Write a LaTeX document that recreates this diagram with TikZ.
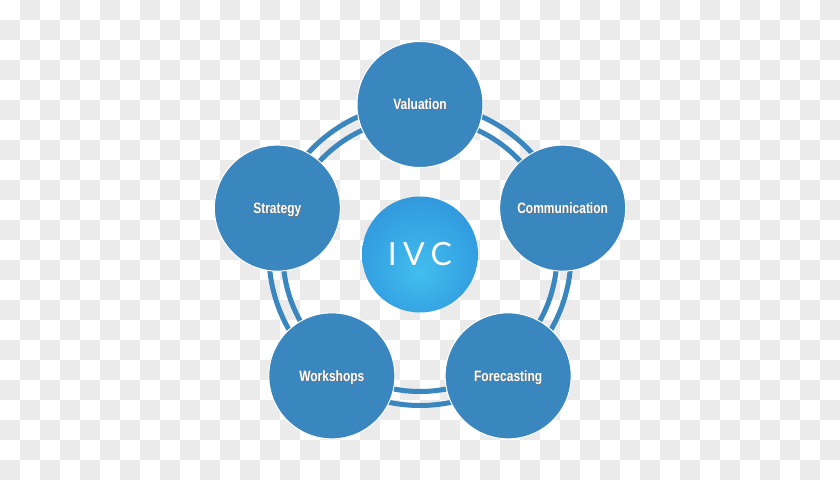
\documentclass[tikz,border=0pt]{standalone}
\usepackage{fontspec}
\usepackage{tikz}
\usetikzlibrary{positioning, calc}

\newfontfamily\petalfont[FakeStretch=0.8]{Liberation Sans}
\newfontfamily\hubfont[LetterSpace=20]{Lato}

\definecolor{petal}{HTML}{3A86BF}
\definecolor{checker}{HTML}{EBEBEB}
\definecolor{ivclight}{HTML}{42BEEE}
\definecolor{ivcmid}{HTML}{34A2E2}
\definecolor{ivcdark}{HTML}{2B79C9}

\pgfdeclareradialshading{ivcball}{\pgfpoint{0bp}{-8bp}}{color(0bp)=(ivclight); color(22bp)=(ivcmid); color(50bp)=(ivcdark)}

\newcommand{\shadowed}[1]{\makebox[0pt][l]{\hspace{0.8pt}\raisebox{-0.8pt}{\color{black!55}#1}}#1}

\tikzset{
    petal/.style={circle, fill=petal, draw=white, line width=1pt, minimum size=126pt, inner sep=0pt,
        text=white, text depth=0pt, font=\petalfont\bfseries\fontsize{15}{18}\selectfont},
    hub/.style={circle, shading=ivcball, minimum size=116pt, inner sep=0pt,
        text=white, font=\hubfont\fontsize{32}{36}\selectfont},
    ring/.style={draw=petal, line width=5pt}
}

\begin{document}
\begin{tikzpicture}[x=1pt, y=1pt]
            \useasboundingbox (-420,-224.5) rectangle (420,254.5);
            % checkerboard background
            \fill[white] (-420,-224.5) rectangle (420,254.5);
            \begin{scope}
                \clip (-420,-224.5) rectangle (420,254.5);
                \foreach \i in {0,...,41}{
                    \foreach \j in {0,...,23}{
                        \pgfmathtruncatemacro{\odd}{mod(\i+\j,2)}
                        \ifnum\odd=1
                            \fill[checker] ({20*\i-420},{254.5-20*\j}) rectangle ++(20,-20);
                        \fi
                    }
                }
            \end{scope}
            % double ring
            \draw[ring] (0,0) circle (151pt);
            \draw[ring] (0,0) circle (137pt);
            % nodes
            \node[hub] (ivc) at (0,0) {IVC};
            \node[petal] (valuation) at (90:150pt) {\shadowed{Valuation}};
            \node[petal] (strategy) at (162:150pt) {\shadowed{Strategy}};
            \node[petal] (workshops) at (234:150pt) {\shadowed{Workshops}};
            \node[petal] (forecasting) at (306:150pt) {\shadowed{Forecasting}};
            \node[petal] (communication) at (18:150pt) {\shadowed{Communication}};
        \end{tikzpicture}
\end{document}
